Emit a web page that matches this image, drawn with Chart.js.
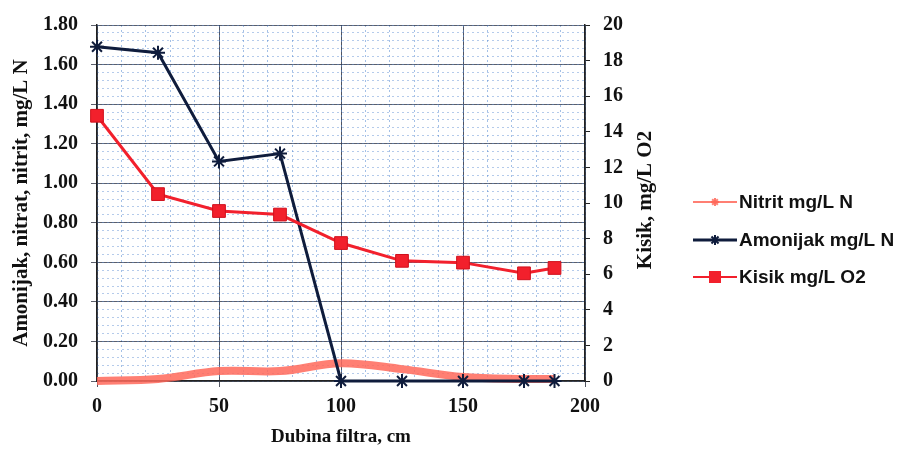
<!DOCTYPE html>
<html>
<head>
<meta charset="utf-8">
<script src="https://cdn.jsdelivr.net/npm/chart.js@4.4.1/dist/chart.umd.min.js"></script>
<style>
  html, body { margin: 0; padding: 0; background: #fff; }
  #wrap { width: 903px; height: 452px; position: relative; }
</style>
</head>
<body>
<div id="wrap"><canvas id="chart" width="903" height="452"></canvas></div>
<script>
// depth of filter, cm
const depths = [0, 25, 50, 75, 100, 125, 150, 175, 187.5];
const nitrit = [0.00, 0.01, 0.05, 0.05, 0.09, 0.06, 0.02, 0.01, 0.01];
const amonijak = [1.69, 1.66, 1.11, 1.15, 0.00, 0.00, 0.00, 0.00, 0.00];
const kisik = [14.9, 10.5, 9.55, 9.35, 7.75, 6.75, 6.65, 6.05, 6.35];

const leftTicks = ['0.00','0.20','0.40','0.60','0.80','1.00','1.20','1.40','1.60','1.80'];
const seriesNames = ['Nitrit mg/L N', 'Amonijak mg/L N', 'Kisik mg/L O2'];
const leftTitle = 'Amonijak, nitrat, nitrit, mg/L N';
const rightTitle = 'Kisik, mg/L O2';
const xTitle = 'Dubina filtra, cm';

const serif = "'Liberation Serif', 'Times New Roman', serif";
const nitritColor = 'rgba(255,105,90,0.85)';
const amonijakColor = '#0f1c3c';
const kisikColor = '#f2202c';

const toPts = (ys) => depths.map((x, i) => ({x: x, y: ys[i]}));

// right-hand legend and the right axis title, drawn on the canvas
const sideText = {
  id: 'sideText',
  afterDraw(chart) {
    const ctx = chart.ctx;
    ctx.save();
    // right axis title, reading bottom to top
    ctx.font = "bold 21px " + serif;
    ctx.fillStyle = '#111';
    ctx.textAlign = 'center';
    ctx.textBaseline = 'middle';
    ctx.translate(646, 200);
    ctx.rotate(-Math.PI / 2);
    ctx.fillText(rightTitle, 0, 0);
    ctx.restore();

    const rows = [202, 240, 277];
    const styles = [
      {color: nitritColor, width: 2, mark: 'star', r: 4},
      {color: amonijakColor, width: 3, mark: 'star', r: 5},
      {color: kisikColor, width: 2, mark: 'rect', r: 6}
    ];
    rows.forEach((y, i) => {
      const s = styles[i];
      ctx.save();
      ctx.strokeStyle = s.color;
      ctx.lineWidth = s.width;
      ctx.beginPath();
      ctx.moveTo(693, y);
      ctx.lineTo(737, y);
      ctx.stroke();
      if (s.mark === 'rect') {
        ctx.fillStyle = s.color;
        ctx.fillRect(715 - s.r, y - s.r, s.r * 2, s.r * 2);
      } else {
        ctx.lineWidth = 2;
        for (let k = 0; k < 4; k++) {
          const a = k * Math.PI / 4;
          ctx.beginPath();
          ctx.moveTo(715 - Math.cos(a) * s.r, y - Math.sin(a) * s.r);
          ctx.lineTo(715 + Math.cos(a) * s.r, y + Math.sin(a) * s.r);
          ctx.stroke();
        }
      }
      ctx.fillStyle = '#111';
      ctx.font = "bold 19px 'Liberation Sans Narrow', 'Liberation Sans', sans-serif";
      ctx.textAlign = 'left';
      ctx.textBaseline = 'middle';
      ctx.fillText(seriesNames[i], 739, y + 1);
      ctx.restore();
    });
  }
};

new Chart(document.getElementById('chart'), {
  type: 'line',
  data: {
    datasets: [
      {
        label: seriesNames[0], data: toPts(nitrit), yAxisID: 'y',
        borderColor: nitritColor, borderWidth: 8, tension: 0.35,
        pointRadius: 0, order: 3
      },
      {
        label: seriesNames[1], data: toPts(amonijak), yAxisID: 'y',
        borderColor: amonijakColor, borderWidth: 3,
        pointStyle: 'star', pointRadius: 7, pointBorderWidth: 2,
        pointBorderColor: amonijakColor, pointBackgroundColor: amonijakColor, order: 2
      },
      {
        label: seriesNames[2], data: toPts(kisik), yAxisID: 'y2',
        borderColor: kisikColor, borderWidth: 3,
        pointStyle: 'rect', pointRadius: 9, pointBorderWidth: 1,
        pointBorderColor: '#d0101c', pointBackgroundColor: kisikColor, order: 1
      }
    ]
  },
  options: {
    responsive: false,
    animation: false,
    clip: false,
    layout: { padding: { top: 22, right: 0, left: 0, bottom: 4 } },
    plugins: { legend: { display: false }, tooltip: { enabled: false } },
    scales: {
      x: {
        type: 'linear', min: 0, max: 200,
        ticks: { stepSize: 50, color: '#111', font: { family: serif, size: 20, weight: 'bold' }, padding: 8 },
        grid: { color: 'rgba(50,55,70,0.85)', tickLength: 6, drawOnChartArea: true },
        border: { color: '#222', width: 1.5 },
        title: { display: true, text: xTitle, color: '#111', font: { family: serif, size: 19, weight: 'bold' }, padding: { top: 4, bottom: 0 } },
        afterFit(s) { s.height = 67; }
      },
      xm: {
        type: 'linear', min: 0, max: 200, position: 'bottom', display: true,
        ticks: { stepSize: 10, display: false },
        grid: { color: 'rgba(90,140,210,0.55)', tickLength: 0 },
        border: { display: false, dash: [2, 3] },
        afterFit(s) { s.height = 0; }
      },
      y: {
        type: 'linear', position: 'left', min: 0, max: 1.8,
        ticks: {
          stepSize: 0.2, color: '#111', padding: 13,
          font: { family: serif, size: 20, weight: 'bold' },
          callback: (v, i) => leftTicks[i]
        },
        grid: { color: 'rgba(50,55,70,0.8)', tickLength: 6 },
        border: { color: '#222', width: 1.5 },
        title: { display: true, text: leftTitle, color: '#111', font: { family: serif, size: 21, weight: 'bold' }, padding: { top: 9, bottom: 0 } },
        afterFit(s) { s.width = 97; }
      },
      ym: {
        type: 'linear', position: 'left', min: 0, max: 1.8, display: true,
        ticks: { stepSize: 0.04, display: false },
        grid: { color: 'rgba(90,140,210,0.45)', tickLength: 0 },
        border: { display: false, dash: [2, 3] },
        afterFit(s) { s.width = 0; }
      },
      y2: {
        type: 'linear', position: 'right', min: 0, max: 20,
        ticks: { stepSize: 2, color: '#111', padding: 13, font: { family: serif, size: 20, weight: 'bold' } },
        grid: { drawOnChartArea: false, tickLength: 5, color: '#222' },
        border: { color: '#222', width: 1.5 },
        afterFit(s) { s.width = 318; }
      }
    }
  },
  plugins: [sideText]
});
</script>
</body>
</html>
